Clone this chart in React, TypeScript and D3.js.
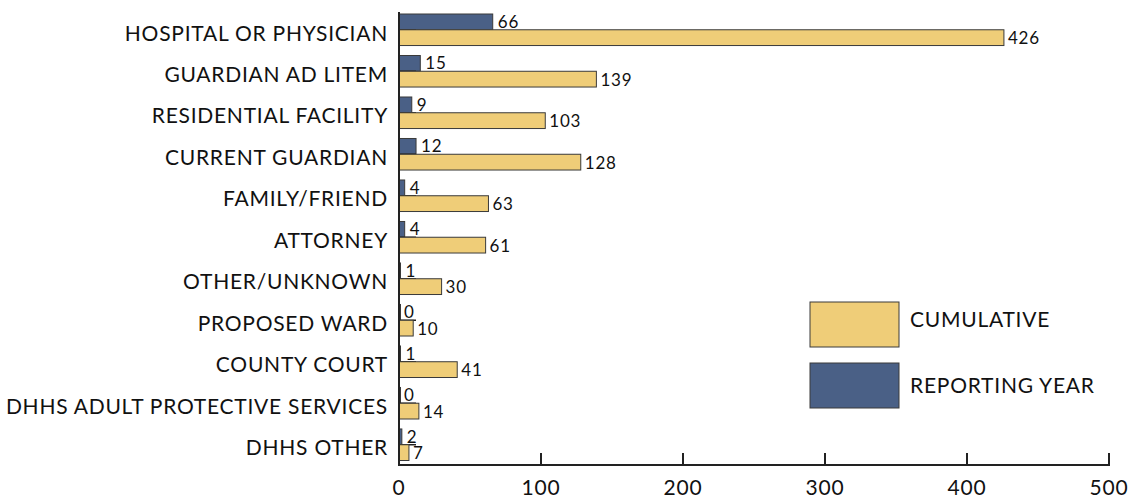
import React from "react";
import * as d3 from "d3";

const categories = [
  "HOSPITAL OR PHYSICIAN",
  "GUARDIAN AD LITEM",
  "RESIDENTIAL FACILITY",
  "CURRENT GUARDIAN",
  "FAMILY/FRIEND",
  "ATTORNEY",
  "OTHER/UNKNOWN",
  "PROPOSED WARD",
  "COUNTY COURT",
  "DHHS ADULT PROTECTIVE SERVICES",
  "DHHS OTHER",
];
const reportingYear = [66, 15, 9, 12, 4, 4, 1, 0, 1, 0, 2];
const cumulative = [426, 139, 103, 128, 63, 61, 30, 10, 41, 14, 7];
const xTicks = [0, 100, 200, 300, 400, 500];
const series = ["REPORTING YEAR", "CUMULATIVE"];

const W = 1133;
const H = 502;
const FONT = "Lato, 'Open Sans', sans-serif";
const YELLOW = "#EFCD78";
const BLUE = "#4A6086";
const STROKE = "#3a3a3a";

export default function App() {
  const x = d3.scaleLinear().domain([0, 500]).range([399, 1109]);
  const y = d3.scaleBand<string>().domain(categories).range([14, 460.5]).paddingInner(0.24).paddingOuter(0);
  const sub = d3.scaleBand<string>().domain(series).range([0, y.bandwidth()]).padding(0);
  const bh = sub.bandwidth();
  return (
    <svg width={W} height={H} style={{ position: "absolute", left: 0, top: 0, background: "#fff" }} fontFamily={FONT}>
      {categories.map((c, i) => {
        const y0 = y(c)!;
        const yb = y0 + sub("REPORTING YEAR")!;
        const yc = y0 + sub("CUMULATIVE")!;
        return (
          <g key={c}>
            <text x={388} y={y0 + 26.5} textAnchor="end" fontSize={21} letterSpacing={0.75} fill="#111">
              {c}
            </text>
            <rect x={x(0)} y={yb} width={Math.max(x(reportingYear[i]) - x(0), 1.5)} height={bh} fill={BLUE} stroke={STROKE} strokeWidth={1} />
            <line x1={x(0)} x2={x(0) + 17} y1={yb + bh} y2={yb + bh} stroke="#222" strokeWidth={1.5} />
            <text x={x(reportingYear[i]) + 5} y={yb + bh / 2 + 6} fontSize={17} letterSpacing={0.8} fill="#111">
              {reportingYear[i]}
            </text>
            <rect x={x(0)} y={yc} width={x(cumulative[i]) - x(0)} height={bh} fill={YELLOW} stroke={STROKE} strokeWidth={1} />
            <text x={x(cumulative[i]) + 4} y={yc + bh / 2 + 6.5} fontSize={17} letterSpacing={0.8} fill="#111">
              {cumulative[i]}
            </text>
          </g>
        );
      })}
      <line x1={399} x2={399} y1={12} y2={466} stroke="#222" strokeWidth={2} />
      <line x1={398} x2={x(500) + 1} y1={465} y2={465} stroke="#222" strokeWidth={2} />
      {xTicks.map((t) => (
        <g key={t}>
          <line x1={x(t)} x2={x(t)} y1={465} y2={453} stroke="#222" strokeWidth={2} />
          <text x={x(t)} y={495} textAnchor="middle" fontSize={21} letterSpacing={0.8} fill="#111">
            {t}
          </text>
        </g>
      ))}
      <rect x={810} y={302} width={89} height={45} fill={YELLOW} stroke={STROKE} strokeWidth={1} />
      <text x={910} y={326.5} fontSize={21} letterSpacing={0.75} fill="#111">CUMULATIVE</text>
      <rect x={810} y={363} width={89} height={45} fill={BLUE} stroke={STROKE} strokeWidth={1} />
      <text x={910} y={393} fontSize={21} letterSpacing={0.75} fill="#111">REPORTING YEAR</text>
    </svg>
  );
}
